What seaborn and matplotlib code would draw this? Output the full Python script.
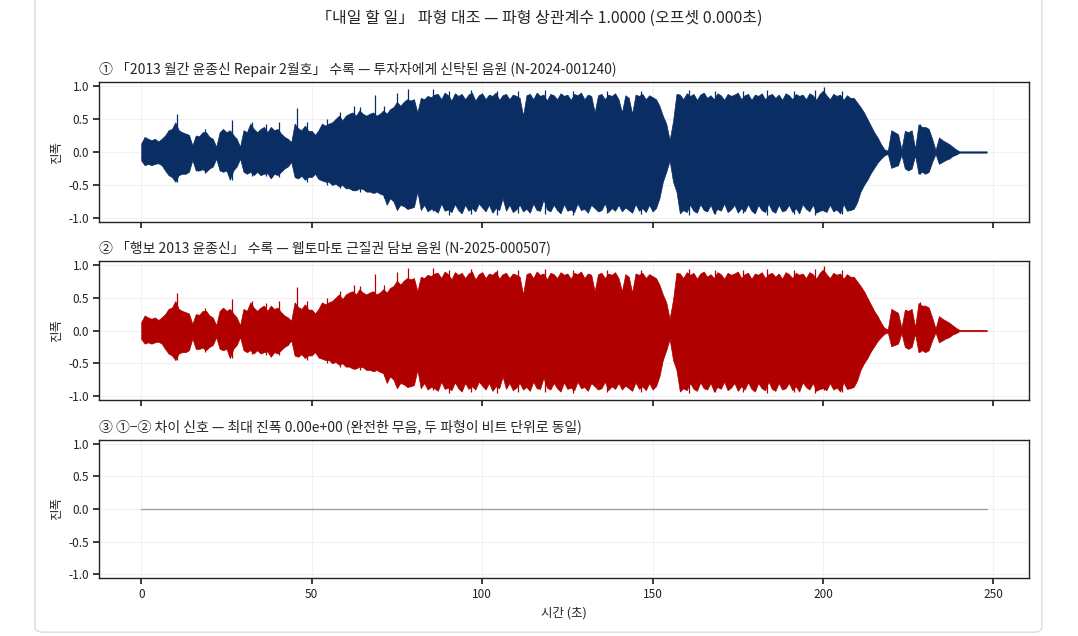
import numpy as np
import matplotlib
matplotlib.use("Agg")
import matplotlib.pyplot as plt
import seaborn as sns
from matplotlib.patches import FancyBboxPatch

# ---------------- data ----------------
# waveform envelope, one reading per second (0 .. 248 s)
time_s = np.arange(0, 249, 1.0)

env_hi = [
    .13, .23, .2, .18, .2, .16, .2, .25, .33, .35,
    .45, .33, .3, .28, .26, .1, .25, .24, .3, .3,
    .23, .2, .08, .3, .35, .3, .33, .26, .2, .08,
    .33, .3, .43, .35, .3, .35, .38, .3, .38, .33,
    .35, .28, .23, .2, .15, .43, .36, .33, .4, .32,
    .32, .26, .33, .43, .4, .43, .45, .5, .55, .48,
    .55, .58, .6, .55, .63, .58, .55, .58, .6, .55,
    .58, .63, .58, .65, .68, .76, .7, .76, .8, .78,
    .8, .6, .82, .8, .85, .83, .87, .88, .8, .9,
    .86, .78, .89, .85, .88, .8, .87, .9, .78, .86,
    .89, .8, .87, .85, .9, .79, .86, .88, .8, .87,
    .85, .82, .55, .86, .88, .8, .9, .85, .87, .78,
    .88, .86, .8, .89, .85, .87, .79, .88, .86, .9,
    .8, .87, .85, .6, .86, .88, .8, .87, .85, .89,
    .8, .6, .86, .82, .58, .87, .85, .88, .8, .86,
    .83, .8, .7, .55, .43, .18, .47, .88, .87, .8,
    .89, .85, .88, .79, .87, .9, .82, .86, .8, .89,
    .86, .79, .88, .85, .87, .9, .8, .86, .88, .79,
    .87, .85, .89, .8, .86, .88, .82, .87, .79, .89,
    .86, .8, .88, .85, .87, .8, .89, .86, .79, .88,
    .93, .86, .8, .88, .85, .87, .79, .86, .82, .82,
    .75, .68, .6, .5, .4, .3, .22, .12, .04, .02,
    .33, .3, .27, .04, .32, .3, .33, .05, .42, .38,
    .38, .35, .2, .03, .22, .18, .15, .12, .08, .04,
    .01, .01, .01, .01, .01, .01, .01, .01, .01,
]

env_lo = [
    -.13, -.2, -.18, -.2, -.18, -.17, -.2, -.28, -.35, -.38,
    -.45, -.35, -.33, -.33, -.3, -.12, -.28, -.28, -.26, -.3,
    -.25, -.22, -.1, -.28, -.3, -.28, -.42, -.28, -.22, -.1,
    -.3, -.33, -.3, -.35, -.3, -.35, -.33, -.32, -.4, -.33,
    -.35, -.3, -.25, -.22, -.15, -.38, -.4, -.36, -.42, -.38,
    -.38, -.33, -.41, -.43, -.45, -.45, -.5, -.48, -.52, -.5,
    -.55, -.55, -.58, -.58, -.55, -.56, -.6, -.6, -.62, -.6,
    -.63, -.65, -.8, -.7, -.75, -.88, -.8, -.82, -.86, -.85,
    -.83, -.6, -.88, -.8, -.9, -.86, -.88, -.92, -.78, -.89,
    -.87, -.91, -.79, -.88, -.93, -.8, -.89, -.85, -.9, -.78,
    -.84, -.9, -.8, -.92, -.85, -.88, -.7, -.89, -.8, -.91,
    -.87, -.8, -.9, -.86, -.92, -.78, -.88, -.89, -.72, -.87,
    -.9, -.8, -.88, -.93, -.79, -.89, -.87, -.91, -.78, -.88,
    -.86, -.92, -.8, -.85, -.9, -.88, -.78, -.91, -.85, -.89,
    -.8, -.9, -.84, -.88, -.92, -.79, -.89, -.85, -.91, -.8,
    -.9, -.85, -.7, -.45, -.3, -.13, -.45, -.6, -.93, -.88,
    -.91, -.8, -.89, -.92, -.79, -.88, -.9, -.8, -.93, -.86,
    -.89, -.78, -.91, -.87, -.8, -.92, -.85, -.9, -.79, -.89,
    -.93, -.8, -.88, -.91, -.78, -.89, -.92, -.8, -.9, -.88,
    -.8, -.91, -.85, -.93, -.79, -.86, -.9, -.8, -.92, -.89,
    -.88, -.91, -.8, -.9, -.87, -.93, -.79, -.89, -.88, -.86,
    -.76, -.6, -.5, -.42, -.32, -.24, -.16, -.1, -.05, -.03,
    -.24, -.22, -.2, -.04, -.25, -.28, -.25, -.05, -.33, -.3,
    -.33, -.3, -.15, -.03, -.18, -.15, -.12, -.1, -.06, -.04,
    -.01, -.01, -.01, -.01, -.01, -.01, -.01, -.01, -.01,
]

# isolated peaks visible beyond the envelope
spike_t = [10.6, 18.6, 26.7, 32.5, 36.5, 40.4, 45.7, 48.5, 54.6, 58.2,
           62.4, 64.3, 68.5, 71.3, 74.9, 78.3, 85.7, 90.4, 96.6, 104.3,
           110.5, 118.4, 126.6, 136.5, 146.7, 160.6, 168.3, 176.5, 183.6,
           191.4, 197.6, 200.2, 205.5, 228.3]
spike_hi = [.57, .35, .48, .45, .42, .45, .66, .45, .5, .6,
            .7, .68, .86, .7, .9, .95, .96, .93, .94, .93,
            .92, .94, .93, .92, .93, .94, .93, .92, .94,
            .93, .94, .98, .92, .43]
spike_lo = [-.45, -.32, -.42, -.36, -.37, -.38, -.38, -.45, -.5, -.55,
            -.58, -.6, -.62, -.7, -.8, -.86, -.9, -.95, -.94, -.95,
            -.93, -.94, -.95, -.93, -.94, -.95, -.94, -.93, -.95,
            -.94, -.95, -.9, -.94, -.33]

assert len(env_hi) == len(time_s), ("hi", len(env_hi))
assert len(env_lo) == len(time_s), ("lo", len(env_lo))
assert len(spike_t) == len(spike_hi) == len(spike_lo)

# both files carry the identical waveform -> difference signal
wave1_hi, wave1_lo = np.array(env_hi), np.array(env_lo)
wave2_hi, wave2_lo = np.array(env_hi), np.array(env_lo)
diff_signal = wave1_hi - wave2_hi

suptitle = "「내일 할 일」 파형 대조 — 파형 상관계수 1.0000 (오프셋 0.000초)"
panel_titles = [
    "① 「2013 월간 윤종신 Repair 2월호」 수록 — 투자자에게 신탁된 음원 (N-2024-001240)",
    "② 「행보 2013 윤종신」 수록 — 웹토마토 근질권 담보 음원 (N-2025-000507)",
    "③ ①−② 차이 신호 — 최대 진폭 0.00e+00 (완전한 무음, 두 파형이 비트 단위로 동일)",
]
y_label = "진폭"
x_label = "시간 (초)"
y_ticks = [-1.0, -0.5, 0.0, 0.5, 1.0]
x_ticks = [0, 50, 100, 150, 200, 250]

colors = ["#0a2d64", "#b00000", "#a3a391"]

# ---------------- style ----------------
sns.set_theme(style="whitegrid", rc={
    "grid.color": "#f1f1f1",
    "grid.linewidth": 0.8,
    "axes.edgecolor": "#222222",
    "axes.linewidth": 1.0,
    "xtick.bottom": True,
    "ytick.left": True,
    "xtick.major.size": 4,
    "ytick.major.size": 4,
    "xtick.color": "#222222",
    "ytick.color": "#222222",
})
plt.rcParams['font.family'] = ['Noto Sans CJK KR', 'DejaVu Sans']
plt.rcParams['axes.unicode_minus'] = False

fig = plt.figure(figsize=(10.78, 6.36), dpi=100)
fig.patch.set_facecolor("white")

left, width = 0.0918, 0.8627
boxes = [(0.651, 0.220), (0.371, 0.2186), (0.0912, 0.217)]
axes = []
for i, (b, h) in enumerate(boxes):
    ax = fig.add_axes([left, b, width, h], sharex=axes[0] if axes else None)
    axes.append(ax)

for i, ax in enumerate(axes[:2]):
    hi = wave1_hi if i == 0 else wave2_hi
    lo = wave1_lo if i == 0 else wave2_lo
    ax.fill_between(time_s, lo, hi, color=colors[i], linewidth=0.5,
                    edgecolor=colors[i])
    ax.vlines(spike_t, spike_lo, spike_hi, color=colors[i], linewidth=0.9)

sns.lineplot(x=time_s, y=diff_signal, ax=axes[2], color=colors[2],
             linewidth=1.0)

for i, ax in enumerate(axes):
    ax.set_ylim(-1.06, 1.06)
    ax.set_yticks(y_ticks)
    ax.set_yticklabels([f"{v:.1f}" for v in y_ticks], fontsize=8.5)
    ax.set_xlim(-12.4, 260.4)
    ax.set_xticks(x_ticks)
    ax.set_ylabel(y_label, fontsize=9, labelpad=4)
    ax.set_title(panel_titles[i], loc="left", fontsize=10, pad=6)
    ax.tick_params(axis="both", pad=3)
    for s in ax.spines.values():
        s.set_visible(True)
        s.set_color("#222222")
    if i < 2:
        ax.tick_params(axis="x", labelbottom=False)
        ax.set_xlabel("")
    else:
        ax.set_xticklabels([str(v) for v in x_ticks], fontsize=8.5)
        ax.set_xlabel(x_label, fontsize=9, labelpad=4)

fig.suptitle(suptitle, y=0.985, fontsize=11.5)

border = FancyBboxPatch((0.0325, 0.006), 0.934, 1.2,
                        boxstyle="round,pad=0,rounding_size=0.008",
                        transform=fig.transFigure, fill=False,
                        edgecolor="#dcdcdc", linewidth=1.0)
fig.patches.append(border)

fig.savefig("out.png", dpi=100)
